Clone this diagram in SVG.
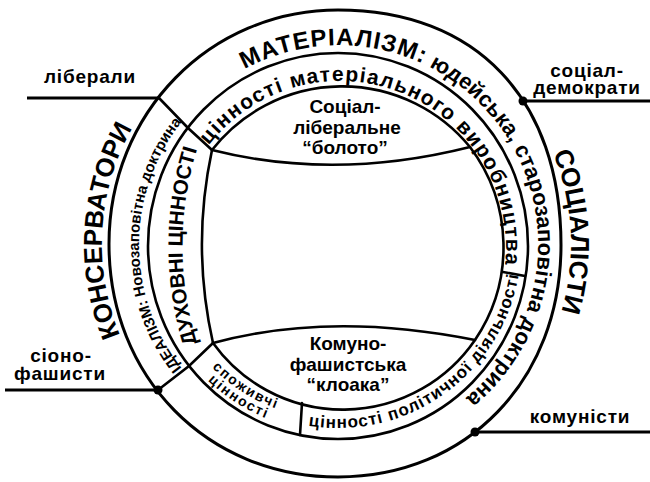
<svg xmlns="http://www.w3.org/2000/svg" width="650" height="482" viewBox="0 0 650 482">
<style>
.ln{fill:none;stroke:#000;stroke-width:2.6;stroke-linecap:round}
.lead{fill:none;stroke:#000;stroke-width:3}
.dot{fill:#000}
.t{font-family:"Liberation Sans",Arial,sans-serif;font-weight:bold;fill:#000}
.lbl{font-size:19px;text-anchor:middle;letter-spacing:0.8px}
.big{font-size:26px}
.ring1{font-size:22px;letter-spacing:0px}
.ring2{font-size:21px}
.lens{font-size:19px;text-anchor:middle}
</style>
<defs>
<path id="pKons" d="M208,441 A236,236 0 0 1 232,33"/>
<path id="pSoc" d="M439,30 A240,240 0 0 1 461,446"/>
<path id="pMat" d="M224,82 A199,199 0 1 1 437.5,417.3"/>
<path id="pIdeal" d="M238.5,417.3 A199,199 0 0 1 238.5,72.7"/>
<path id="pDuh" d="M200,352 A330,330 0 0 1 200,140"/>
<path id="pVir" d="M204,151.8 A166,166 0 0 1 500.3,290"/>
<path id="pPol" d="M293.7,422.6 A183,183 0 0 0 520.3,260.9"/>
<path id="pSpo1" d="M181.2,324.9 A174,174 0 0 0 328.8,419"/>
<path id="pSpo2" d="M170.5,330.4 A187,187 0 0 0 328.2,432"/>
</defs>
<rect width="650" height="482" fill="#fff"/>

<g id="connectors">
  <path class="ln" style="stroke-width:3" d="M338,10 C476,10 561,99 561,245 C561,380 467,477 338,477 C207,477 109,377 109,244 C109,113 210,10 338,10 Z"/>
  <ellipse class="ln" cx="338" cy="246" rx="190" ry="193"/>
  <path class="ln" d="M212,150 A165,165 0 0 1 470,147 A166,166 0 0 1 475,340 A160,160 0 0 1 213,343 A450,450 0 0 1 212,150 Z"/>
  <path class="ln" d="M212,150 Q335,181 470,147"/>
  <path class="ln" d="M213,343 Q330,311 475,340"/>
  <polyline class="ln" points="159,98 188,128 212,150"/>
  <polyline class="ln" points="158,390 189,366 213,343"/>
  <line class="ln" x1="503" y1="272" x2="525" y2="276"/>
  <line class="ln" x1="302" y1="403" x2="300" y2="435"/>
  <line class="lead" x1="27" y1="98" x2="159" y2="98"/>
  <line class="lead" x1="523" y1="101" x2="650" y2="101"/>
  <line class="lead" x1="5" y1="390" x2="158" y2="390"/>
  <line class="lead" x1="475" y1="432" x2="650" y2="432"/>
  <circle class="dot" cx="523" cy="101" r="4.5"/>
  <circle class="dot" cx="158" cy="390" r="4.5"/>
  <circle class="dot" cx="475" cy="432" r="4.5"/>
</g>

<g id="liberaly"><text class="t lbl" x="90" y="83">ліберали</text></g>
<g id="socdem"><text class="t lbl" x="587" y="77">соціал-</text><text class="t lbl" x="587" y="94">демократи</text></g>
<g id="sionofash"><text class="t lbl" x="61" y="362">сіоно-</text><text class="t lbl" x="60" y="380">фашисти</text></g>
<g id="komunisty"><text class="t lbl" x="580" y="423">комуністи</text></g>

<g id="konservatory"><text class="t big"><textPath href="#pKons" startOffset="50%" text-anchor="middle">КОНСЕРВАТОРИ</textPath></text></g>
<g id="socialisty"><text class="t big"><textPath href="#pSoc" startOffset="50%" text-anchor="middle">СОЦІАЛІСТИ</textPath></text></g>

<g id="materializm"><text class="t ring1"><textPath href="#pMat" startOffset="24"><tspan style="font-size:24px;letter-spacing:1px">МАТЕРІАЛІЗМ:</tspan> юдейська, старозаповітна доктрина</textPath></text></g>
<g id="idealizm"><text class="t" style="font-size:15px"><textPath href="#pIdeal" startOffset="50%" text-anchor="middle">ІДЕАЛІЗМ: Новозаповітна доктрина</textPath></text></g>

<g id="duhovni"><text class="t" style="font-size:20.5px"><textPath href="#pDuh" startOffset="50%" text-anchor="middle">ДУХОВНІ ЦІННОСТІ</textPath></text></g>
<g id="vyrobnyctvo"><text class="t ring2" style="letter-spacing:1.3px"><textPath href="#pVir" startOffset="8">цінності матеріального виробництва</textPath></text></g>
<g id="polityka"><text class="t" style="font-size:17px;letter-spacing:1px"><textPath href="#pPol" startOffset="15">цінності політичної діяльності</textPath></text></g>
<g id="spozhyvchi"><text class="t" style="font-size:14px;letter-spacing:1.8px"><textPath href="#pSpo1" startOffset="50%" text-anchor="middle">споживчі</textPath></text><text class="t" style="font-size:14px;letter-spacing:1.8px"><textPath href="#pSpo2" startOffset="50%" text-anchor="middle">цінності</textPath></text></g>

<g id="boloto"><text class="t lens" x="345" y="113">Соціал-</text><text class="t lens" x="347" y="134">ліберальне</text><text class="t lens" x="345" y="154">“болото”</text></g>
<g id="kloaka"><text class="t lens" x="348" y="350">Комуно-</text><text class="t lens" x="348" y="371">фашистська</text><text class="t lens" x="348" y="391">“клоака”</text></g>
</svg>
